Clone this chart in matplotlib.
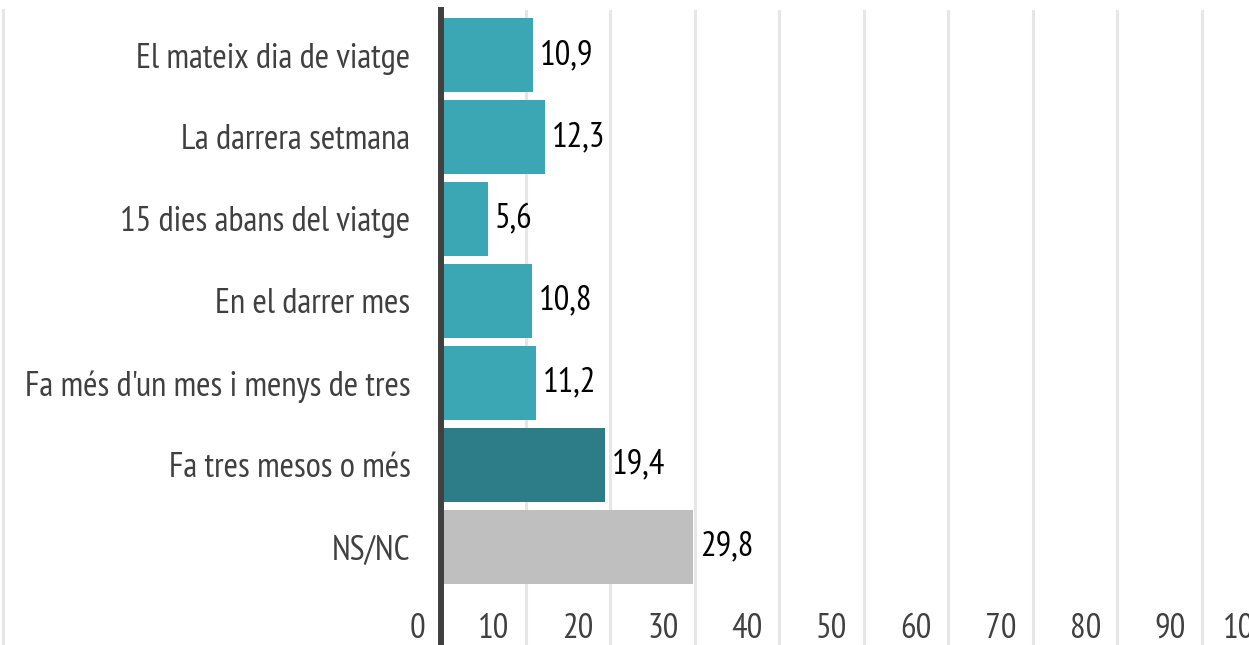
import matplotlib
matplotlib.use("Agg")
import matplotlib.pyplot as plt
from matplotlib.transforms import ScaledTranslation
from matplotlib.lines import Line2D

categories = ["El mateix dia de viatge", "La darrera setmana", "15 dies abans del viatge",
              "En el darrer mes", "Fa més d'un mes i menys de tres", "Fa tres mesos o més", "NS/NC"]
values = [10.9, 12.3, 5.6, 10.8, 11.2, 19.4, 29.8]
value_labels = ["10,9", "12,3", "5,6", "10,8", "11,2", "19,4", "29,8"]
colors = ["#3BA7B4", "#3BA7B4", "#3BA7B4", "#3BA7B4", "#3BA7B4", "#2C7D87", "#BFBFBF"]
xticks = [0, 10, 20, 30, 40, 50, 60, 70, 80, 90, 100]

FONT = ["PT Sans Narrow", "Roboto Condensed", "Liberation Sans Narrow", "DejaVu Sans"]
plt.rcParams['font.family'] = FONT

W, H = 1249, 645
fig = plt.figure(figsize=(W / 100, H / 100), dpi=100)
ax = fig.add_axes([441 / W, 0, 845 / W, 635 / H])

y = list(range(len(categories)))
ax.barh(y, values, height=0.9, color=colors, zorder=2)
ax.set_xlim(0, 100)
ax.set_ylim(6 + 1.2, -0.55)

ax.set_xticks(xticks)
ax.set_xticklabels([str(t) for t in xticks])
ax.set_yticks(y)
ax.set_yticklabels(categories)
ax.grid(axis='x', color='#E6E6E6', linewidth=2.2, zorder=0)
ax.set_axisbelow(True)

for s in ['top', 'right', 'bottom']:
    ax.spines[s].set_visible(False)
ax.spines['left'].set_color('#404040')
ax.spines['left'].set_linewidth(4.3)
ax.spines['left'].set_zorder(3)

ax.tick_params(axis='y', length=0, pad=22, labelsize=25, labelcolor='#404040')
ax.tick_params(axis='x', length=0, pad=-23, labelsize=25, labelcolor='#404040')
off = ScaledTranslation(-0.16, 0, fig.dpi_scale_trans)
for lab in ax.get_xticklabels():
    lab.set_horizontalalignment('right')
    lab.set_transform(lab.get_transform() + off)

for yi, v, t in zip(y, values, value_labels):
    ax.annotate(t, (v, yi), xytext=(5, 0), textcoords='offset points',
                va='center', ha='left', fontsize=25, color='black')

fig.add_artist(Line2D([3 / W, 3 / W], [0, 635 / H], color='#E6E6E6', linewidth=2.2,
                      transform=fig.transFigure))

fig.savefig("out.png", dpi=100)
